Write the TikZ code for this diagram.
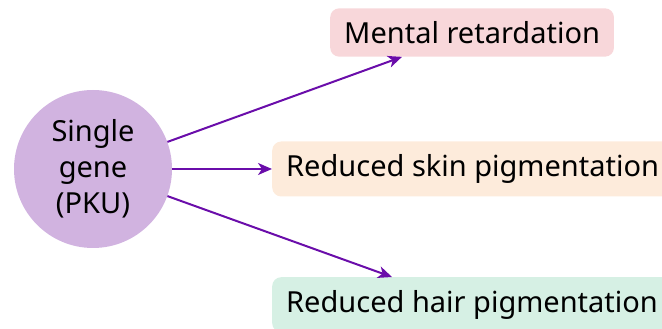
\documentclass[tikz,border=0pt]{standalone}
\usepackage{fontspec}
\setmainfont{Noto Sans}
\usepackage{xcolor}
\usepackage{tikz}
\usetikzlibrary{arrows.meta}
\definecolor{genefill}{RGB}{209,179,224}
\definecolor{arrline}{RGB}{106,13,170}
\definecolor{pinkfill}{RGB}{248,215,218}
\definecolor{peachfill}{RGB}{253,235,219}
\definecolor{greenfill}{RGB}{214,240,228}
\tikzset{
  gene/.style ={circle, fill=genefill, minimum size=158pt, inner sep=0pt, align=center,
                font=\fontsize{29}{36}\selectfont},
  trait/.style={rounded corners=9pt, inner xsep=14pt, inner ysep=13pt,
                font=\fontsize{29}{36}\selectfont},
  arr/.style  ={draw=arrline, line width=2pt, -{Stealth[length=14pt,width=12pt,inset=4pt]}},
}
\begin{document}
\begin{tikzpicture}[x=1pt,y=1pt]
  \useasboundingbox (0,0) rectangle (662,329);
  \clip (0,0) rectangle (662,329);
  \node[gene] (g) at (93,160) {Single\\gene\\(PKU)};
  \node[trait,fill=pinkfill,anchor=west] (m) at (330,296.5) {Mental retardation};
  \node[trait,fill=peachfill,anchor=west] (s) at (272,160) {Reduced skin pigmentation};
  \node[trait,fill=greenfill,anchor=north west] (h) at (272,52) {Reduced hair pigmentation};
  \draw[arr] (g.20) -- ([xshift=72pt]m.south west);
  \draw[arr] (g.east) -- (s.west);
  \draw[arr] (g.-20) -- ([xshift=120pt]h.north west);
\end{tikzpicture}
\end{document}
